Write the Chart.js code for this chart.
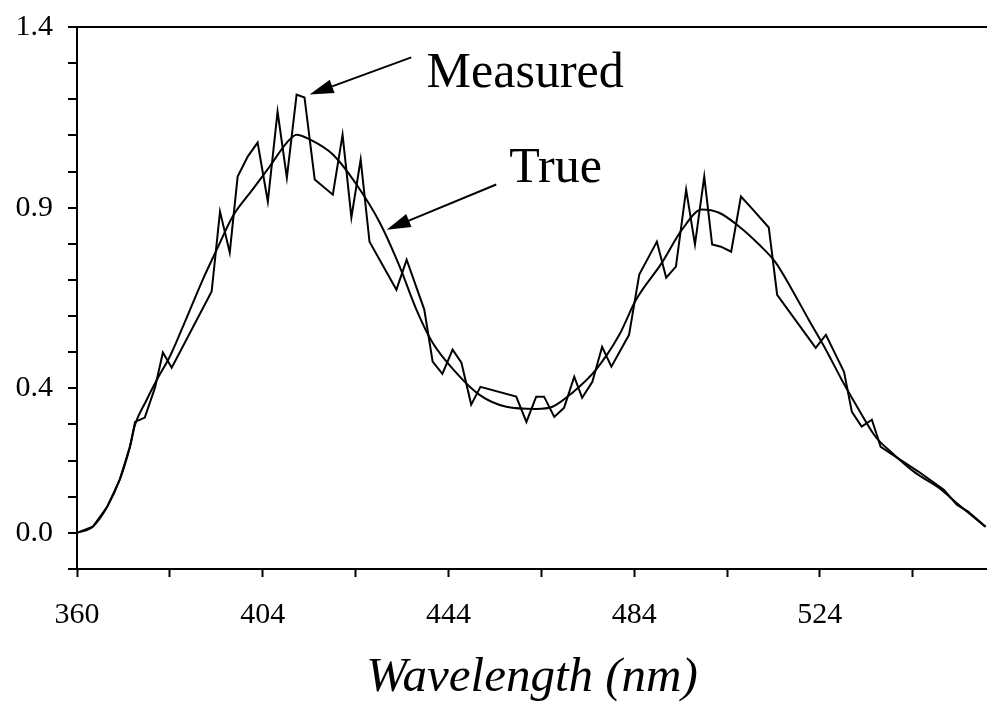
<!DOCTYPE html>
<html>
<head>
<meta charset="utf-8">
<script src="https://cdn.jsdelivr.net/npm/chart.js@4.4.1/dist/chart.umd.min.js"></script>
<style>
  html, body { margin: 0; padding: 0; background: #fff; }
  #wrap { width: 987px; height: 702px; position: relative; }
</style>
</head>
<body>
<div id="wrap"><canvas id="spectrumChart"></canvas></div>
<script>
// values (wavelength in nm, intensity)
var trueNm = [364.0, 367.4, 370.5, 373.2, 375.4, 376.5, 378.8, 381.2, 384.0, 387.7, 391.1, 394.1, 397.5, 401.8,
  405.5, 409.2, 411.3, 414.1, 419.1, 424.2, 429.2, 433.5, 437.1, 440.6, 445.7, 450.7, 456.5, 462.9, 466.4,
  470.7, 475.8, 480.8, 484.4, 490.0, 494.3, 498.6, 502.3, 506.6, 510.9, 514.5, 518.0, 521.6, 525.3, 528.7,
  532.4, 536.0, 539.5, 544.6, 549.6, 553.9, 559.7];
var trueVal = [0.000, 0.017, 0.072, 0.147, 0.238, 0.299, 0.363, 0.424, 0.488, 0.598, 0.701, 0.784, 0.875, 0.950,
  1.014, 1.080, 1.102, 1.089, 1.047, 0.964, 0.859, 0.737, 0.618, 0.526, 0.443, 0.382, 0.349, 0.343, 0.349,
  0.388, 0.452, 0.548, 0.645, 0.748, 0.839, 0.895, 0.886, 0.848, 0.798, 0.748, 0.673, 0.590, 0.507, 0.424,
  0.341, 0.266, 0.222, 0.166, 0.125, 0.078, 0.017];

var measNm = [364.0, 367.4, 370.5, 373.2, 375.4, 376.5, 378.6, 380.8, 382.5, 384.4, 393.0, 394.8, 396.9, 398.6,
  400.8, 402.9, 405.1, 407.2, 409.2, 411.3, 413.0, 415.2, 419.1, 421.2, 423.1, 425.1, 427.0, 432.8, 435.0,
  438.8, 440.6, 442.7, 444.9, 446.8, 448.9, 450.9, 458.6, 460.8, 462.9, 464.6, 466.8, 468.9, 471.1, 472.8,
  475.0, 477.1, 479.1, 482.9, 485.1, 488.9, 490.9, 493.0, 495.2, 497.1, 499.1, 500.8, 502.7, 504.9, 507.0,
  509.2, 513.0, 514.8, 523.1, 525.3, 529.2, 530.9, 533.0, 535.2, 537.1, 540.3, 545.3, 550.7, 553.5, 556.0, 559.7];
var measVal = [0.000, 0.017, 0.072, 0.147, 0.238, 0.307, 0.319, 0.402, 0.499, 0.457, 0.668, 0.889, 0.776, 0.986,
  1.042, 1.080, 0.917, 1.166, 0.983, 1.213, 1.205, 0.978, 0.936, 1.102, 0.873, 1.033, 0.806, 0.673, 0.756,
  0.618, 0.474, 0.440, 0.507, 0.471, 0.355, 0.404, 0.377, 0.307, 0.377, 0.377, 0.321, 0.346, 0.432, 0.374,
  0.418, 0.515, 0.460, 0.548, 0.715, 0.806, 0.706, 0.737, 0.950, 0.798, 0.986, 0.798, 0.792, 0.778, 0.931,
  0.900, 0.845, 0.659, 0.512, 0.548, 0.446, 0.335, 0.294, 0.313, 0.238, 0.211, 0.169, 0.119, 0.078, 0.058, 0.017];

var xTickValues = [364, 384, 404, 424, 444, 464, 484, 504, 524, 544];
var xTickLabels = ['360', '', '404', '', '444', '', '484', '', '524', ''];
var yTickValues = [-0.1, 0, 0.1, 0.2, 0.3, 0.4, 0.5, 0.6, 0.7, 0.8, 0.9, 1.0, 1.1, 1.2, 1.3, 1.4];
var yTickLabels = ['', '0.0', '', '', '', '0.4', '', '', '', '', '0.9', '', '', '', '', '1.4'];

// arrows + words, placed in data units
var notes = [
  { text: 'Measured', tx: 439.3, ty: 1.233, from: [436.0, 1.316], to: [414.1, 1.213] },
  { text: 'True', tx: 457.1, ty: 0.972, from: [454.3, 0.964], to: [430.7, 0.839] }
];

function toPoints(xs, ys) {
  return xs.map(function (x, i) { return { x: x, y: ys[i] }; });
}

var notePlugin = {
  id: 'notes',
  afterDatasetsDraw: function (chart) {
    var c = chart.ctx, sx = chart.scales.x, sy = chart.scales.y;
    c.save();
    c.fillStyle = '#000';
    c.strokeStyle = '#000';
    c.lineWidth = 2;
    c.font = '50px "Liberation Serif", "Times New Roman", serif';
    c.textBaseline = 'alphabetic';
    notes.forEach(function (n) {
      c.fillText(n.text, sx.getPixelForValue(n.tx), sy.getPixelForValue(n.ty));
      var x0 = sx.getPixelForValue(n.from[0]), y0 = sy.getPixelForValue(n.from[1]);
      var x1 = sx.getPixelForValue(n.to[0]), y1 = sy.getPixelForValue(n.to[1]);
      var a = Math.atan2(y1 - y0, x1 - x0);
      var hl = 24, hw = 7;
      var bx = x1 - hl * Math.cos(a), by = y1 - hl * Math.sin(a);
      c.beginPath();
      c.moveTo(x0, y0);
      c.lineTo(bx, by);
      c.stroke();
      c.beginPath();
      c.moveTo(x1, y1);
      c.lineTo(bx + hw * Math.sin(a), by - hw * Math.cos(a));
      c.lineTo(bx - hw * Math.sin(a), by + hw * Math.cos(a));
      c.closePath();
      c.fill();
    });
    c.restore();
  }
};

var tickFont = { family: '"Liberation Serif", "Times New Roman", serif', size: 30 };

var ctx = document.getElementById('spectrumChart');
var spectrumChart = new Chart(ctx, {
  type: 'line',
  data: {
    datasets: [{
      label: 'Measured',
      data: toPoints(measNm, measVal),
      borderColor: '#000',
      borderWidth: 2,
      pointRadius: 0,
      tension: 0
    }, {
      label: 'True',
      data: toPoints(trueNm, trueVal),
      borderColor: '#000',
      borderWidth: 2,
      pointRadius: 0,
      cubicInterpolationMode: 'monotone'
    }]
  },
  options: {
    responsive: true,
    maintainAspectRatio: false,
    animation: false,
    layout: { padding: { top: 27, right: 0, bottom: 0, left: 0 } },
    plugins: {
      legend: { display: false },
      tooltip: { enabled: false }
    },
    scales: {
      x: {
        type: 'linear',
        min: 364,
        max: 560,
        afterBuildTicks: function (scale) {
          scale.ticks = xTickValues.map(function (v) { return { value: v }; });
        },
        afterFit: function (scale) {
          scale.height = 133;
          scale.paddingLeft = 0;
          scale.paddingRight = 0;
        },
        ticks: {
          color: '#000',
          font: tickFont,
          padding: 20,
          maxRotation: 0,
          autoSkip: false,
          callback: function (v, i) { return xTickLabels[i]; }
        },
        grid: { drawOnChartArea: false, tickLength: 8, tickColor: '#000', tickWidth: 2 },
        border: { color: '#000', width: 2 },
        title: {
          display: true,
          text: 'Wavelength (nm)',
          color: '#000',
          font: { family: '"Liberation Serif", "Times New Roman", serif', size: 49, style: 'italic' },
          padding: { top: 0, bottom: -6 }
        }
      },
      y: {
        min: -0.1,
        max: 1.4,
        afterBuildTicks: function (scale) {
          scale.ticks = yTickValues.map(function (v) { return { value: v }; });
        },
        afterFit: function (scale) {
          scale.width = 77;
          scale.paddingTop = 0;
          scale.paddingBottom = 0;
        },
        ticks: {
          color: '#000',
          font: tickFont,
          padding: 15,
          autoSkip: false,
          callback: function (v, i) { return yTickLabels[i]; }
        },
        grid: {
          tickLength: 9,
          tickColor: '#000',
          tickWidth: 2,
          lineWidth: 2,
          color: function (c) {
            return c.tick && Math.abs(c.tick.value - 1.4) < 1e-6 ? '#000' : 'rgba(0,0,0,0)';
          }
        },
        border: { color: '#000', width: 2 }
      }
    }
  },
  plugins: [notePlugin]
});
</script>
</body>
</html>
